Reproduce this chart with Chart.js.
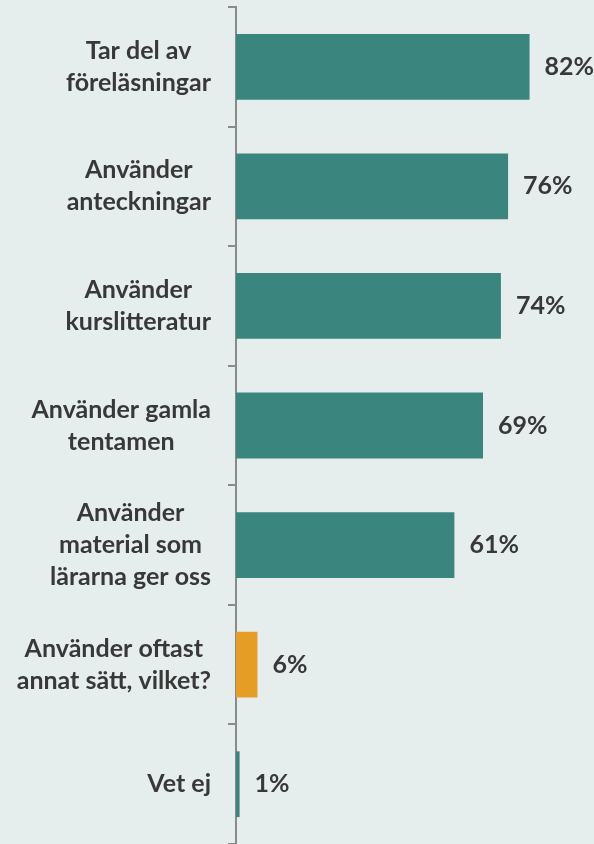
<!DOCTYPE html>
<html>
<head>
<meta charset="utf-8">
<script src="https://cdn.jsdelivr.net/npm/chart.js@4/dist/chart.umd.min.js"></script>
<style>
  html, body { margin: 0; padding: 0; background: #e6eeed; }
  #wrap { width: 594px; height: 844px; position: relative; }
</style>
</head>
<body>
<div id="wrap"><canvas id="chart"></canvas></div>
<script>
// Data
const categories = [
  ['Tar del av', 'föreläsningar'],
  ['Använder', 'anteckningar'],
  ['Använder', 'kurslitteratur'],
  ['Använder gamla', 'tentamen'],
  ['Använder', 'material som', 'lärarna ger oss'],
  ['Använder oftast', 'annat sätt, vilket?'],
  ['Vet ej']
];
const values = [82, 76, 74, 69, 61, 6, 1];
const barColors = ['#3a857d', '#3a857d', '#3a857d', '#3a857d', '#3a857d', '#e59d26', '#3a857d'];

const FONT = 'bold 25px Lato';
const TEXT = '#383838';
const LINE_H = 32;

// draw category labels: block right-aligned, lines centered in block
const catLabels = {
  id: 'catLabels',
  afterDraw(chart) {
    const ctx = chart.ctx;
    const y = chart.scales.y;
    const right = y.right - 25;
    ctx.save();
    ctx.font = FONT;
    ctx.fillStyle = TEXT;
    ctx.textAlign = 'center';
    ctx.textBaseline = 'middle';
    categories.forEach((lines, i) => {
      const cy = y.getPixelForValue(i);
      const w = Math.max(...lines.map(l => ctx.measureText(l).width));
      const cx = right - w / 2;
      const top = cy - (lines.length - 1) * LINE_H / 2;
      lines.forEach((l, j) => ctx.fillText(l, cx, top + j * LINE_H));
    });
    ctx.restore();
  }
};

// value labels next to bars
const valueLabels = {
  id: 'valueLabels',
  afterDatasetsDraw(chart) {
    const ctx = chart.ctx;
    const meta = chart.getDatasetMeta(0);
    ctx.save();
    ctx.font = FONT;
    ctx.fillStyle = TEXT;
    ctx.textAlign = 'left';
    ctx.textBaseline = 'middle';
    meta.data.forEach((bar, i) => {
      ctx.fillText(values[i] + '%', bar.x + 15, bar.y);
    });
    ctx.restore();
  }
};

new Chart(document.getElementById('chart'), {
  type: 'bar',
  data: {
    labels: categories,
    datasets: [{
      data: values,
      backgroundColor: barColors,
      borderWidth: 0,
      categoryPercentage: 0.55,
      barPercentage: 1
    }]
  },
  options: {
    indexAxis: 'y',
    responsive: true,
    maintainAspectRatio: false,
    animation: false,
    layout: { padding: { top: 7, bottom: 0, left: 0, right: 0 } },
    plugins: {
      legend: { display: false },
      tooltip: { enabled: false }
    },
    scales: {
      x: {
        display: false,
        min: 0,
        max: 100
      },
      y: {
        afterFit(scale) { scale.width = 236; },
        grid: {
          offset: true,
          drawOnChartArea: false,
          drawTicks: true,
          tickLength: 8,
          color: '#8a8a8a',
          lineWidth: 2
        },
        border: { display: true, color: '#8a8a8a', width: 2 },
        ticks: { display: false }
      }
    }
  },
  plugins: [catLabels, valueLabels]
});
</script>
</body>
</html>
